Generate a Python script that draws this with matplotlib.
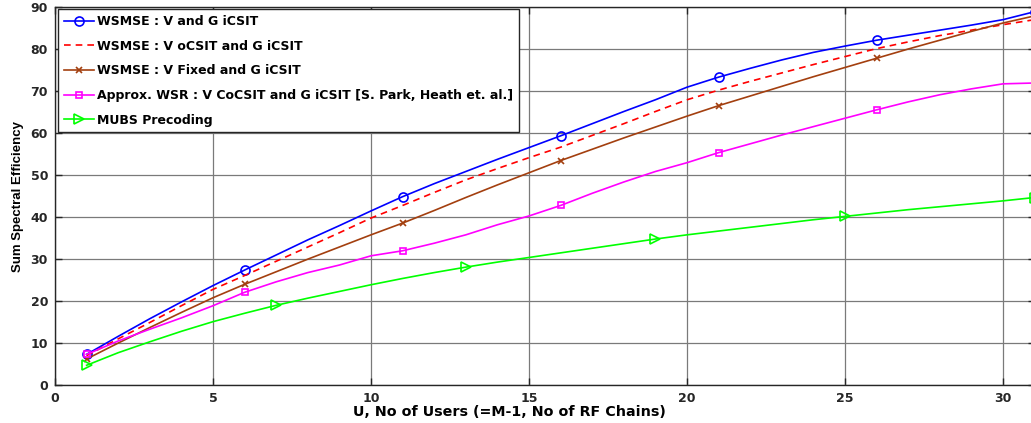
import matplotlib
matplotlib.use('Agg')
import matplotlib.pyplot as plt
from matplotlib import font_manager

# U = 1 .. 31 (no of users)
users = list(range(1, 32))

wsmse_v_g = [7.3, 11.6, 15.8, 19.8, 23.7, 27.4, 31.0, 34.6, 38.0, 41.5,
             44.9, 48.0, 50.9, 53.8, 56.6, 59.4, 62.3, 65.2, 68.0, 71.0,
             73.4, 75.5, 77.5, 79.3, 80.8, 82.2, 83.4, 84.6, 85.8, 87.1, 89.0]
wsmse_ocsit = [7.0, 11.0, 14.9, 18.9, 22.8, 26.1, 29.5, 32.9, 36.3, 39.8,
               42.8, 45.9, 48.9, 51.6, 54.2, 56.7, 59.5, 62.3, 65.2, 68.0,
               70.3, 72.4, 74.4, 76.4, 78.3, 80.2, 81.8, 83.3, 84.6, 85.9, 87.1]
wsmse_fixed = [6.2, 10.0, 13.7, 17.3, 20.8, 24.0, 27.0, 30.0, 32.9, 35.8,
               38.6, 41.6, 44.7, 47.7, 50.6, 53.5, 56.2, 58.9, 61.5, 64.1,
               66.6, 68.9, 71.2, 73.5, 75.7, 77.9, 80.1, 82.2, 84.3, 86.3, 88.0]
approx_wsr = [7.3, 10.5, 13.3, 16.0, 18.9, 22.1, 24.6, 26.8, 28.6, 30.8,
              32.0, 33.8, 35.8, 38.2, 40.3, 42.8, 45.7, 48.4, 50.9, 53.0,
              55.4, 57.5, 59.6, 61.6, 63.6, 65.6, 67.5, 69.2, 70.6, 71.8, 72.0]
mubs = [4.7, 7.7, 10.3, 12.8, 15.1, 17.1, 19.0, 20.7, 22.3, 23.9,
        25.4, 26.8, 28.1, 29.3, 30.4, 31.5, 32.6, 33.7, 34.8, 35.8,
        36.7, 37.6, 38.5, 39.4, 40.2, 41.0, 41.8, 42.5, 43.2, 43.9, 44.7]

labels = ['WSMSE : V and G iCSIT',
          'WSMSE : V oCSIT and G iCSIT',
          'WSMSE : V Fixed and G iCSIT',
          'Approx. WSR : V CoCSIT and G iCSIT [S. Park, Heath et. al.]',
          'MUBS Precoding']

x_ticks = [0, 5, 10, 15, 20, 25, 30]
y_ticks = [0, 10, 20, 30, 40, 50, 60, 70, 80, 90]

# 좁은 글꼴이 있으면 y 라벨에 사용
names = {f.name for f in font_manager.fontManager.ttflist}
if 'Liberation Sans Narrow' in names:
    ylab_font = 'Liberation Sans Narrow'
elif 'DejaVu Sans Condensed' in names:
    ylab_font = 'DejaVu Sans Condensed'
else:
    ylab_font = 'Liberation Sans'

plt.rcParams['font.family'] = ['DejaVu Sans']

fig = plt.figure(figsize=(10.31, 4.23), dpi=100)
ax = fig.add_axes([55 / 1031, 38 / 423, 979.6 / 1031, 377.5 / 423])

ax.plot(users, wsmse_v_g, '-o', color='#0000ff', lw=1.2, ms=6.5, mfc='none',
        mew=1.2, markevery=5, label=labels[0])
ax.plot(users, wsmse_ocsit, '--', color='#ff0000', lw=1.2, dashes=(4, 3),
        label=labels[1])
ax.plot(users, wsmse_fixed, '-x', color='#a33f0f', lw=1.2, ms=5, mew=1.2,
        markevery=5, label=labels[2])
ax.plot(users, approx_wsr, '-s', color='#ff00ff', lw=1.2, ms=5, mfc='none',
        mew=1.2, markevery=5, label=labels[3])
ax.plot(users, mubs, '->', color='#00ff00', lw=1.2, ms=7, mfc='none',
        mew=1.2, markevery=6, label=labels[4])

ax.set_xlim(0, 31)
ax.set_ylim(0, 90)
ax.set_xticks(x_ticks)
ax.set_yticks(y_ticks)
ax.tick_params(direction='in', length=5, width=1, top=True, right=True,
               labelsize=9, colors='#262626', pad=5)
for lab in ax.get_xticklabels() + ax.get_yticklabels():
    lab.set_fontweight('bold')
ax.grid(True, color='#7a7a7a', lw=0.9)
for s in ax.spines.values():
    s.set_color('#262626')
    s.set_linewidth(1.0)

ax.set_xlabel('U, No of Users (=M-1, No of RF Chains)', fontsize=10.3,
              fontweight='bold', x=0.464, labelpad=0)
ax.set_ylabel('Sum Spectral Efficiency', fontsize=9.5, family=ylab_font,
              fontweight='bold', labelpad=5)

leg = ax.legend(loc='upper left', bbox_to_anchor=(0.003, 0.995),
                borderaxespad=0, prop={'weight': 'bold', 'size': 9},
                labelspacing=0.93, handlelength=2.4, handletextpad=0.3,
                borderpad=0.45, fancybox=False, framealpha=1)
leg.get_frame().set_edgecolor('#262626')
leg.get_frame().set_linewidth(1.0)

fig.savefig('out.png', dpi=100)
